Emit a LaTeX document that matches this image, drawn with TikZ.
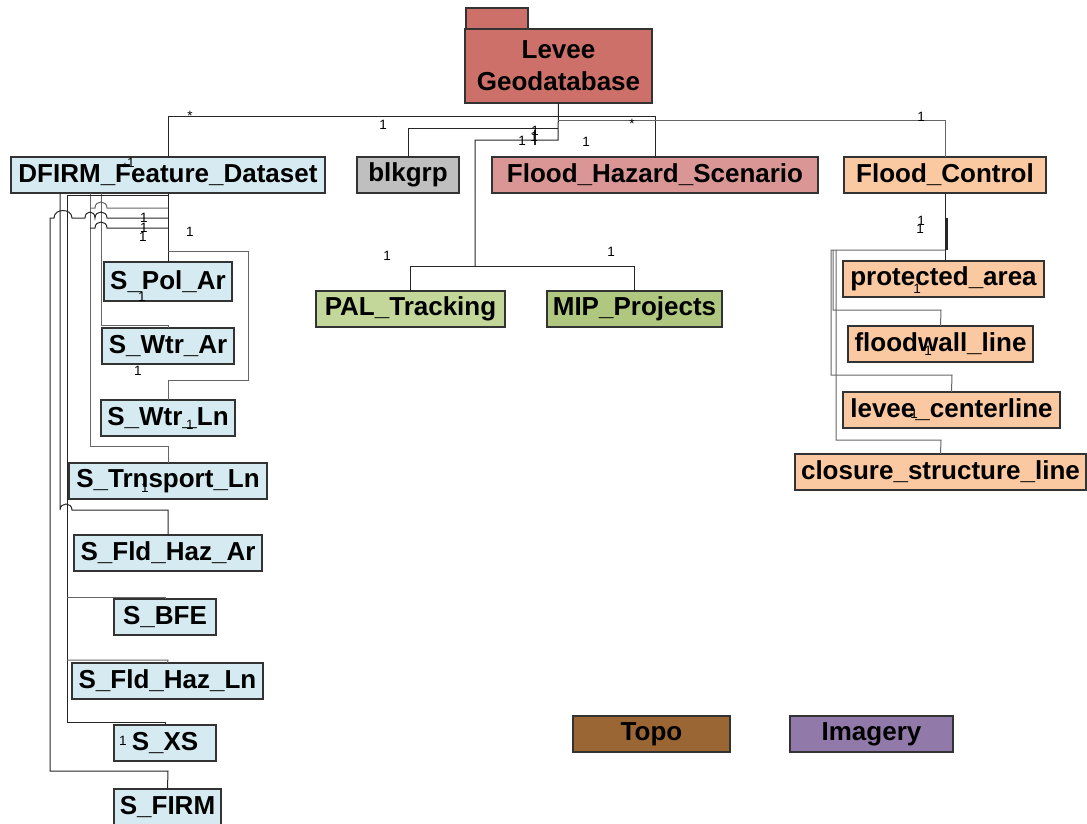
\documentclass[tikz,border=0pt]{standalone}
\usepackage{fontspec}
\setmainfont{Liberation Sans}
\usepackage{xcolor}

\definecolor{leveered}{HTML}{CD706A}
\definecolor{fhsred}{HTML}{DA9694}
\definecolor{blkgray}{HTML}{BFBFBF}
\definecolor{dfblue}{HTML}{D5EBF1}
\definecolor{palgreen}{HTML}{C4D79B}
\definecolor{mipgreen}{HTML}{B0C77F}
\definecolor{fcpeach}{HTML}{FAC9A1}
\definecolor{topobrown}{HTML}{9A6634}
\definecolor{imgpurple}{HTML}{9179AA}

\tikzset{
  tbl/.style={draw=black!80, line width=1.2pt, inner sep=0pt, outer sep=0pt,
    minimum height=36pt, anchor=north west,
    font=\bfseries\fontsize{26}{32}\selectfont},
  link/.style={draw=black!85, line width=1pt},
  glink/.style={draw=black!60, line width=1pt},
  mult/.style={font=\fontsize{13.5}{13.5}\selectfont, inner sep=0pt}
}

\begin{document}
\begin{tikzpicture}[x=1pt,y=-1pt]
\useasboundingbox (0,0) rectangle (1087,823);
% root package
\node[tbl, fill=leveered, minimum width=62pt, minimum height=21pt] (levtab) at (466,8) {};
\node[tbl, fill=leveered, minimum width=187pt, minimum height=74pt, align=center] (levee) at (465,29) {Levee\\Geodatabase};
% first level
\node[tbl, fill=dfblue, minimum width=314pt] (dfirm) at (11,157) {DFIRM\_Feature\_Dataset};
\node[tbl, fill=blkgray, minimum width=102pt] (blkgrp) at (357,157) {blkgrp};
\node[tbl, fill=fhsred, minimum width=326pt] (fhs) at (492,157) {Flood\_Hazard\_Scenario};
\node[tbl, fill=fcpeach, minimum width=202pt] (fc) at (844,157) {Flood\_Control};
\node[tbl, fill=palgreen, minimum width=189pt] (pal) at (316,291) {PAL\_Tracking};
\node[tbl, fill=mipgreen, minimum width=175pt] (mip) at (547,291) {MIP\_Projects};
% DFIRM feature classes
\node[tbl, fill=dfblue, minimum width=128pt, minimum height=39pt] (spolar) at (104,262) {S\_Pol\_Ar};
\node[tbl, fill=dfblue, minimum width=132pt] (swtrar) at (102,328) {S\_Wtr\_Ar};
\node[tbl, fill=dfblue, minimum width=134pt] (swtrln) at (101,400) {S\_Wtr\_Ln};
\node[tbl, fill=dfblue, minimum width=198pt] (strn) at (69,463) {S\_Trnsport\_Ln};
\node[tbl, fill=dfblue, minimum width=188pt] (sfha) at (74,535) {S\_Fld\_Haz\_Ar};
\node[tbl, fill=dfblue, minimum width=102pt] (sbfe) at (114,599) {S\_BFE};
\node[tbl, fill=dfblue, minimum width=191pt] (sfhl) at (72,663) {S\_Fld\_Haz\_Ln};
\node[tbl, fill=dfblue, minimum width=102pt] (sxs) at (114,725) {S\_XS};
\node[tbl, fill=dfblue, minimum width=107pt] (sfirm) at (114,789) {S\_FIRM};
% flood control feature classes
\node[tbl, fill=fcpeach, minimum width=201pt] (pa) at (843,261) {protected\_area};
\node[tbl, fill=fcpeach, minimum width=185pt] (fw) at (848,326) {floodwall\_line};
\node[tbl, fill=fcpeach, minimum width=217pt] (lvc) at (843,392) {levee\_centerline};
\node[tbl, fill=fcpeach, minimum width=291pt] (csl) at (795,454) {closure\_structure\_line};
% rasters
\node[tbl, fill=topobrown, minimum width=157pt] (topo) at (573,716) {Topo};
\node[tbl, fill=imgpurple, minimum width=163pt] (img) at (790,716) {Imagery};

% root connectors
\draw[link] (levee.south) -- (558,140) -- (475,140) -- (475,266);
\draw[link] (pal.north) -- (pal.north |- 0,266) -- (mip.north |- 0,266) -- (mip.north);
\draw[link] (dfirm.north) -- (dfirm.north |- 0,116) -- (fhs.north |- 0,116) -- (fhs.north);
\draw[glink] (558,120) -- (fc.north |- 0,120) -- (fc.north);
\draw[link] (blkgrp.north) -- (blkgrp.north |- 0,128) -- (558,128);
\draw[link, line width=2pt] (535,130) -- (535,145);

% DFIRM connectors
\draw[link] (dfirm.south) -- (spolar.north);
\draw[glink] (168,251) -- (248,251) -- (248,380) -- (168,380) -- (swtrln.north);
\draw[glink] (dfirm.south -| 101,0) -- (101,325) -- (168,325) -- (swtrar.north);
\draw[glink] (dfirm.south -| 90,0) -- (90,446) -- (168,446) -- (strn.north);
\draw[link] (dfirm.south -| 60,0) -- (60,510) .. controls (60,502) and (72,502) .. (72,510) -- (168,510) -- (sfha.north);
\draw[link] (168,195) -- (67,195) -- (67,722) -- (165,722) -- (sxs.north);
\draw[glink] (67,597) -- (165,597) -- (sbfe.north);
\draw[glink] (67,660) -- (168,660) -- (sfhl.north);
\draw[link] (168,218) -- (107,218) .. controls (107,210) and (95,210) .. (95,218)
  .. controls (95,210) and (85,210) .. (85,218) -- (72,218)
  .. controls (72,208) and (54,208) .. (54,218) -- (50,218) -- (50,771) -- (168,771) -- (sfirm.north);
\draw[glink] (168,208) -- (107,208) .. controls (107,200) and (95,200) .. (95,208) -- (90,208);
\draw[link] (168,228) -- (107,228) .. controls (107,220) and (95,220) .. (95,228) -- (90,228);

% flood control connectors
\draw[link] (fc.south) -- (fc.south |- pa.north);
\draw[link, line width=2pt] (947,218) -- (947,250);
\draw[glink] (945,250) -- (831,250) -- (831,375) -- (952,375) -- (lvc.north);
\draw[glink] (833,250) -- (833,310) -- (941,310) -- (fw.north);
\draw[glink] (836,250) -- (836,440) -- (941,440) -- (csl.north);

% multiplicities
\node[mult] (m1) at (190,116) {*};
\node[mult] (m2) at (383,125) {1};
\node[mult] (m3) at (522,141) {1};
\node[mult] (m4) at (534,137) {1};
\node[mult] (m5) at (535,131) {1};
\node[mult] (m6) at (586,142) {1};
\node[mult] (m7) at (632,124) {*};
\node[mult] (m8) at (921,117) {1};
\node[mult] (m9) at (387,256) {1};
\node[mult] (m10) at (611,252) {1};
\node[mult] (m11) at (921,221) {1};
\node[mult] (m12) at (920,229) {1};
\node[mult] (m13) at (190,232) {1};
\node[mult] (m14) at (144,218) {1};
\node[mult] (m15) at (144,228) {1};
\node[mult] (m16) at (143,237) {1};
\node[mult] (m17) at (125,168) {*};
\node[mult] (m18) at (131,163) {1};
\node[mult] (m19) at (142,297) {1};
\node[mult] (m20) at (138,371) {1};
\node[mult] (m21) at (190,425) {1};
\node[mult] (m22) at (145,488) {1};
\node[mult] (m23) at (123,741) {1};
\node[mult] (m24) at (917,289) {1};
\node[mult] (m25) at (928,351) {1};
\node[mult] (m26) at (914,414) {1};
\end{tikzpicture}
\end{document}
